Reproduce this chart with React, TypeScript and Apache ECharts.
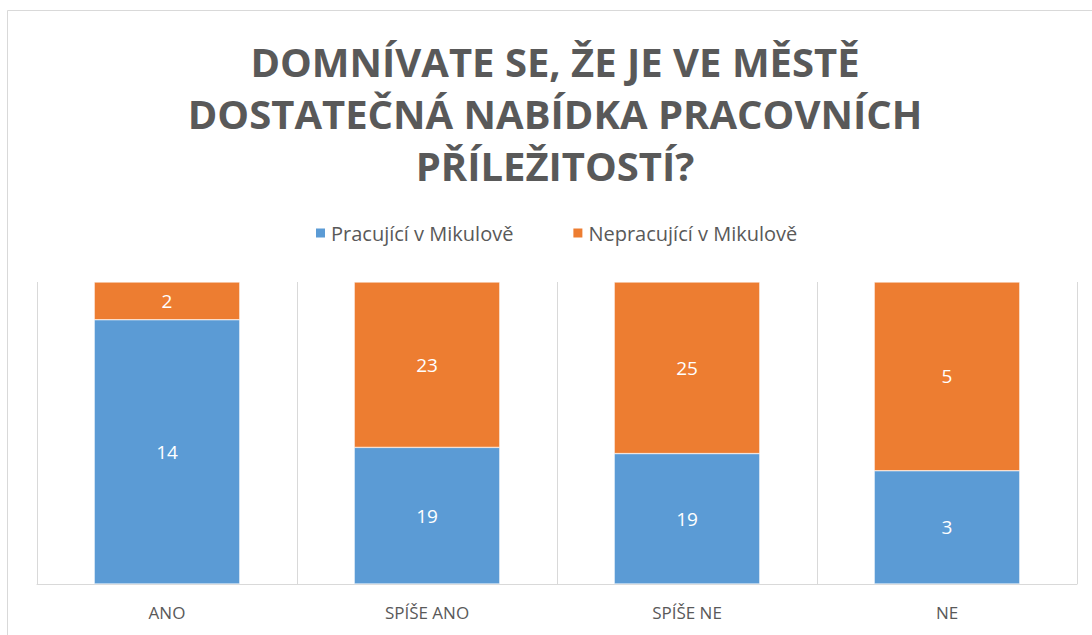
import React, { useEffect, useRef } from "react";
import * as echarts from "echarts";

const categories = ["ANO", "SPÍŠE ANO", "SPÍŠE NE", "NE"];
const seriesNames = ["Pracující v Mikulově", "Nepracující v Mikulově"];
const working = [14, 19, 19, 3];
const notWorking = [2, 23, 25, 5];
const titleText = "DOMNÍVATE SE, ŽE JE VE MĚSTĚ\nDOSTATEČNÁ NABÍDKA PRACOVNÍCH\nPŘÍLEŽITOSTÍ?";

const FONT = "'Open Sans', 'Noto Sans', sans-serif";
const GREY = "#595959";

export default function App() {
  const ref = useRef<HTMLDivElement>(null);
  useEffect(() => {
    if (!ref.current) return;
    const chart = echarts.init(ref.current, undefined, { renderer: "svg" });
    const totals = working.map((v, i) => v + notWorking[i]);
    const pct = (arr: number[]) => arr.map((v, i) => (v / totals[i]) * 100);
    const raw = [working, notWorking];
    chart.setOption({
      animation: false,
      textStyle: { fontFamily: FONT },
      title: {
        text: titleText,
        left: "center",
        top: 20,
        textStyle: {
          fontFamily: FONT,
          fontSize: 40,
          fontWeight: "bold",
          color: GREY,
          lineHeight: 52,
        },
      },
      legend: {
        data: seriesNames,
        top: 208,
        left: 302,
        icon: "rect",
        itemWidth: 11,
        itemHeight: 11,
        itemGap: 58,
        textStyle: { fontFamily: FONT, fontSize: 20, color: GREY },
      },
      graphic: [
        {
          type: "rect",
          shape: { x: 0.5, y: 0.5, width: 1300, height: 800 },
          style: { fill: "none", stroke: "#d9d9d9", lineWidth: 1 },
          silent: true,
        },
      ],
      grid: { left: 30, top: 272, width: 1040, height: 302 },
      xAxis: {
        type: "category",
        data: categories,
        axisLine: { lineStyle: { color: "#d9d9d9", width: 1 } },
        axisTick: { show: false },
        splitLine: { show: true, lineStyle: { color: "#d9d9d9", width: 1 } },
        axisLabel: { color: GREY, fontSize: 17, margin: 20, fontFamily: FONT },
      },
      yAxis: {
        type: "value",
        min: 0,
        max: 100,
        show: false,
        splitLine: { show: false },
      },
      series: [working, notWorking].map((arr, si) => ({
        name: seriesNames[si],
        type: "bar",
        stack: "total",
        barWidth: "56%",
        data: pct(arr),
        itemStyle: { color: si === 0 ? "#5b9bd5" : "#ed7d31", borderColor: "#ffffff", borderWidth: 0.5 },
        label: {
          show: true,
          position: "inside",
          color: "#ffffff",
          fontSize: 19,
          fontFamily: FONT,
          formatter: (p: any) => String(raw[si][p.dataIndex]),
        },
      })),
    });
    return () => chart.dispose();
  }, []);
  return (
    <div style={{ position: "absolute", left: 0, top: 0, width: 1092, height: 635, overflow: "hidden", background: "#fff" }}>
      <div ref={ref} style={{ position: "absolute", left: 7, top: 10, width: 1096, height: 625 }} />
    </div>
  );
}
